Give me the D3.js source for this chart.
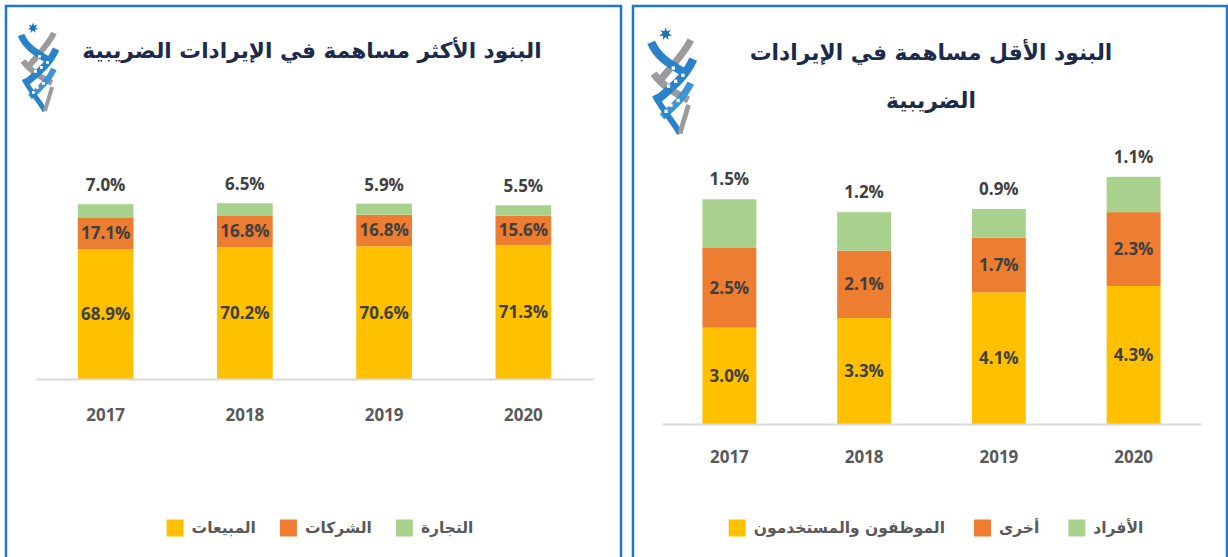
<!DOCTYPE html>
<html>
<head>
<meta charset="utf-8">
<script src="https://cdn.jsdelivr.net/npm/d3@7"></script>
<style>
  body { margin: 0; background: #fff; }
  .num { font-family: "Open Sans", sans-serif; font-weight: 700; }
  .ar { font-family: "DejaVu Sans", sans-serif; font-weight: 700; }
</style>
</head>
<body>
<div id="chart"></div>
<script>
// years shared by both charts
const years = ["2017", "2018", "2019", "2020"];
const seriesColors = ["#FFC000", "#ED7D31", "#A9D18E"];

// left chart: top contributors
const topTitle = "البنود الأكثر مساهمة في الإيرادات الضريبية";
const topNames = ["المبيعات", "الشركات", "التجارة"];
const topSales = [68.9, 70.2, 70.6, 71.3];
const topCompanies = [17.1, 16.8, 16.8, 15.6];
const topTrade = [7.0, 6.5, 5.9, 5.5];

// right chart: lowest contributors
const lowTitle = ["البنود الأقل مساهمة في الإيرادات", "الضريبية"];
const lowNames = ["الموظفون والمستخدمون", "أخرى", "الأفراد"];
const lowEmployees = [3.0, 3.3, 4.1, 4.3];
const lowOther = [2.5, 2.1, 1.7, 2.3];
const lowIndividuals = [1.5, 1.2, 0.9, 1.1];

const svg = d3.select("#chart")
    .append("svg")
    .attr("width", 1228)
    .attr("height", 557);

// panel frames
svg.append("rect")
    .attr("x", 6).attr("y", 6)
    .attr("width", 615).attr("height", 600)
    .attr("fill", "none")
    .attr("stroke", "#1f78c8")
    .attr("stroke-width", 2.5);

svg.append("rect")
    .attr("x", 633).attr("y", 6)
    .attr("width", 594).attr("height", 600)
    .attr("fill", "none")
    .attr("stroke", "#1f78c8")
    .attr("stroke-width", 2.5);

function drawLogo(x, y, s) {
    const g = svg.append("g").attr("transform", `translate(${x}, ${y}) scale(${s})`);
    const star = d3.range(14).map(i => {
        const r = i % 2 === 0 ? 5.5 : 2.6;
        const a = -Math.PI / 2 + i * Math.PI / 7;
        return [13 + r * Math.cos(a), 5 + r * Math.sin(a)];
    });
    g.append("path").attr("d", d3.line()(star) + "Z").attr("fill", "#1f72b8");

    const band = (d, color, w) => g.append("path")
        .attr("d", d)
        .attr("fill", "none")
        .attr("stroke", color)
        .attr("stroke-width", w)
        .attr("stroke-linecap", "butt");

    band("M34,10 C28,22 18,32 8,44", "#9b9b9b", 6);
    band("M1,12 C6,24 16,30 30,38", "#2a82c8", 7);
    band("M3,38 C10,48 20,54 32,60", "#9b9b9b", 6);
    band("M36,26 C30,40 20,48 6,60", "#2a82c8", 7);
    band("M34,46 C28,58 20,66 10,74", "#3d93d4", 6);
    band("M4,56 C10,68 18,76 25,88", "#2a82c8", 5);
    band("M32,64 C30,72 27,80 25,88", "#9b9b9b", 4);
    // little white windows on the ribbons
    g.selectAll("rect.win")
        .data([[14, 47], [20, 43], [26, 38], [16, 63], [22, 59], [12, 68], [18, 32]])
        .enter().append("rect")
        .attr("class", "win")
        .attr("x", d => d[0]).attr("y", d => d[1])
        .attr("width", 2.8).attr("height", 2.8)
        .attr("fill", "#fff");
}

drawLogo(20, 23, 1.0);
drawLogo(650, 28, 1.2);

function drawChart(opts) {
    const rows = years.map((yr, i) => ({
        year: yr, s0: opts.series[0][i], s1: opts.series[1][i], s2: opts.series[2][i]
    }));
    const keys = ["s0", "s1", "s2"];
    const stacked = d3.stack().keys(keys)(rows);

    const x = d3.scaleBand()
        .domain(years)
        .range(opts.xRange)
        .paddingInner(0.6)
        .paddingOuter(0.3);

    const y = d3.scaleLinear()
        .domain([0, opts.yMax])
        .range(opts.yRange);

    const layers = svg.append("g")
        .selectAll("g")
        .data(stacked)
        .enter()
        .append("g")
        .attr("fill", (d, i) => seriesColors[i]);

    layers.selectAll("rect")
        .data(d => d)
        .enter()
        .append("rect")
        .attr("x", d => x(d.data.year))
        .attr("y", d => y(d[1]))
        .attr("width", x.bandwidth())
        .attr("height", d => y(d[0]) - y(d[1]));

    // labels: first two series inside, last series above the bar
    layers.each(function (layer, li) {
        d3.select(this).selectAll("text")
            .data(layer)
            .enter()
            .append("text")
            .attr("class", "num")
            .attr("x", d => x(d.data.year) + x.bandwidth() / 2)
            .attr("y", d => li < 2 ? (y(d[0]) + y(d[1])) / 2 : y(d[1]) - opts.topGap)
            .attr("dy", "0.35em")
            .attr("text-anchor", "middle")
            .attr("fill", "#404040")
            .style("font-size", "17px")
            .text(d => (d[1] - d[0]).toFixed(1) + "%");
    });

    const axis = svg.append("g")
        .attr("transform", `translate(0, ${opts.yRange[0]})`)
        .call(d3.axisBottom(x).tickSize(0).tickSizeOuter(0));

    axis.select(".domain")
        .attr("stroke", "#d9d9d9")
        .attr("stroke-width", 2);

    axis.selectAll(".tick text")
        .attr("class", "num")
        .attr("y", opts.yearGap)
        .attr("dy", "0.35em")
        .attr("fill", "#595959")
        .style("font-size", "17px");

    // title
    opts.title.forEach((t, i) => {
        svg.append("text")
            .attr("class", "ar")
            .attr("x", opts.titleX)
            .attr("y", opts.titleY + i * opts.titleStep)
            .attr("text-anchor", "middle")
            .attr("fill", "#1c2b4b")
            .style("font-size", opts.titleSize + "px")
            .text(t);
    });

    // legend: square then label, left to right
    const leg = svg.append("g");
    let cursor = 0;
    opts.names.forEach((name, i) => {
        const item = leg.append("g").attr("transform", `translate(${cursor}, 0)`);
        item.append("rect")
            .attr("x", 0).attr("y", -8.5)
            .attr("width", 17).attr("height", 17)
            .attr("fill", seriesColors[i]);
        const txt = item.append("text")
            .attr("class", "ar")
            .attr("x", 25)
            .attr("y", 0)
            .attr("dy", "0.3em")
            .attr("text-anchor", "start")
            .attr("fill", "#595959")
            .style("font-size", "15.5px")
            .text(name);
        const w = txt.node().getComputedTextLength();
        cursor += 25 + w + opts.legendGap;
    });
    const total = cursor - opts.legendGap;
    leg.attr("transform", `translate(${opts.legendCx - total / 2}, ${opts.legendY})`);
}

drawChart({
    series: [topSales, topCompanies, topTrade],
    names: topNames,
    xRange: [36, 593],
    yRange: [379, 191],
    yMax: 100,
    topGap: 19,
    yearGap: 36,
    title: [topTitle],
    titleX: 312,
    titleY: 58,
    titleStep: 0,
    titleSize: 21.7,
    legendCx: 320,
    legendY: 528,
    legendGap: 24
});

drawChart({
    series: [lowEmployees, lowOther, lowIndividuals],
    names: lowNames,
    xRange: [662, 1201],
    yRange: [424, 167.2],
    yMax: 8,
    topGap: 20,
    yearGap: 33,
    title: lowTitle,
    titleX: 931,
    titleY: 60,
    titleStep: 48,
    titleSize: 21.8,
    legendCx: 936,
    legendY: 528,
    legendGap: 29
});
</script>
</body>
</html>
